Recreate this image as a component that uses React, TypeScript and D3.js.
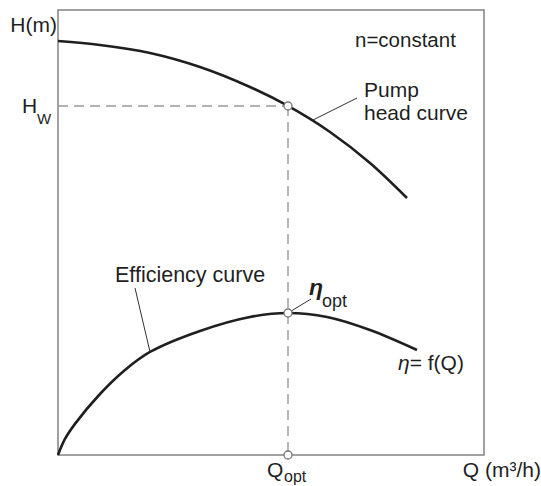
import React from 'react';
import * as d3 from 'd3';

// pump head curve (Q in % of axis, H in % of axis)
const headQ = [0, 9.86, 21.6, 33.33, 45.07, 53.99, 63.85, 73.24, 81.92];
const headH = [93.03, 92.13, 90.34, 87.19, 82.7, 78.43, 72.58, 65.62, 57.75];

// efficiency curve
const effQ = [0, 1.64, 3.99, 9.86, 15.73, 21.6, 33.33, 45.07, 53.99, 63.15, 73.24, 84.27];
const effE = [0, 3.6, 7.0, 13.71, 19.1, 23.15, 27.87, 31.01, 31.91, 31.01, 28.09, 23.6];

const qOpt = 53.99;
const hW = 78.43;
const etaOpt = 31.91;

const font = '"Liberation Sans", Arial, sans-serif';
const ink = '#1f1f1f';

const App: React.FC = () => {
  const x = d3.scaleLinear().domain([0, 100]).range([58, 484]);
  const y = d3.scaleLinear().domain([0, 100]).range([455, 10]);

  const line = d3.line<[number, number]>()
    .x(d => x(d[0]))
    .y(d => y(d[1]))
    .curve(d3.curveCatmullRom.alpha(0.5));

  const head = headQ.map((q, i) => [q, headH[i]] as [number, number]);
  const eff = effQ.map((q, i) => [q, effE[i]] as [number, number]);

  const xo = x(qOpt);

  return (
    <svg width={541} height={486} style={{ position: 'absolute', left: 0, top: 0, background: '#fff' }}
      fontFamily={font}>
      {/* frame */}
      <rect x={x(0)} y={y(100)} width={x(100) - x(0)} height={y(0) - y(100)}
        fill="none" stroke="#8a8a8a" strokeWidth={1.6} />

      {/* dashed guides */}
      <line x1={x(0)} x2={xo} y1={y(hW)} y2={y(hW)} stroke="#9a9a9a" strokeWidth={1.4} strokeDasharray="10,6" />
      <line x1={xo} x2={xo} y1={y(hW)} y2={y(0)} stroke="#9a9a9a" strokeWidth={1.4} strokeDasharray="10,6" />

      {/* curves */}
      <path d={line(head) || ''} fill="none" stroke={ink} strokeWidth={2.6} />
      <path d={line(eff) || ''} fill="none" stroke={ink} strokeWidth={2.6} />

      {/* leader lines */}
      <line x1={357} y1={98} x2={313} y2={120} stroke="#333" strokeWidth={1} />
      <line x1={135} y1={288} x2={x(21.6)} y2={y(23.15)} stroke="#333" strokeWidth={1} />
      <line x1={xo} y1={y(etaOpt)} x2={311} y2={299} stroke="#333" strokeWidth={1} />

      {/* marker circles */}
      {[[qOpt, hW], [qOpt, etaOpt], [qOpt, 0]].map((p, i) => (
        <circle key={i} cx={x(p[0])} cy={y(p[1])} r={4} fill="#fff" stroke="#777" strokeWidth={1.3} />
      ))}

      {/* texts */}
      <text x={57} y={32} textAnchor="end" fontSize={21} fill={ink}>H(m)</text>
      <text x={22} y={113} fontSize={21} fill={ink}>H</text>
      <text x={37} y={124} fontSize={15} fill={ink}>W</text>
      <text x={355} y={47} fontSize={20.5} fill={ink}>n=constant</text>
      <text x={364} y={97} fontSize={21} fill={ink}>Pump</text>
      <text x={364} y={120} fontSize={21} fill={ink}>head curve</text>
      <text x={115} y={282} fontSize={21.5} fill={ink}>Efficiency curve</text>
      <text x={309} y={295} fontSize={23} fontStyle="italic" fontWeight="bold" fill={ink}>η</text>
      <text x={322} y={307} fontSize={18} fill={ink}>opt</text>
      <text x={398} y={370} fontSize={21} fill={ink}><tspan fontStyle="italic">η</tspan>= f(Q)</text>
      <text x={267} y={477} fontSize={21} fill={ink}>Q</text>
      <text x={284} y={482} fontSize={16} fill={ink}>opt</text>
      <text x={541} y={477} textAnchor="end" fontSize={21} fill={ink}>Q (m³/h)</text>
    </svg>
  );
};

export default App;
